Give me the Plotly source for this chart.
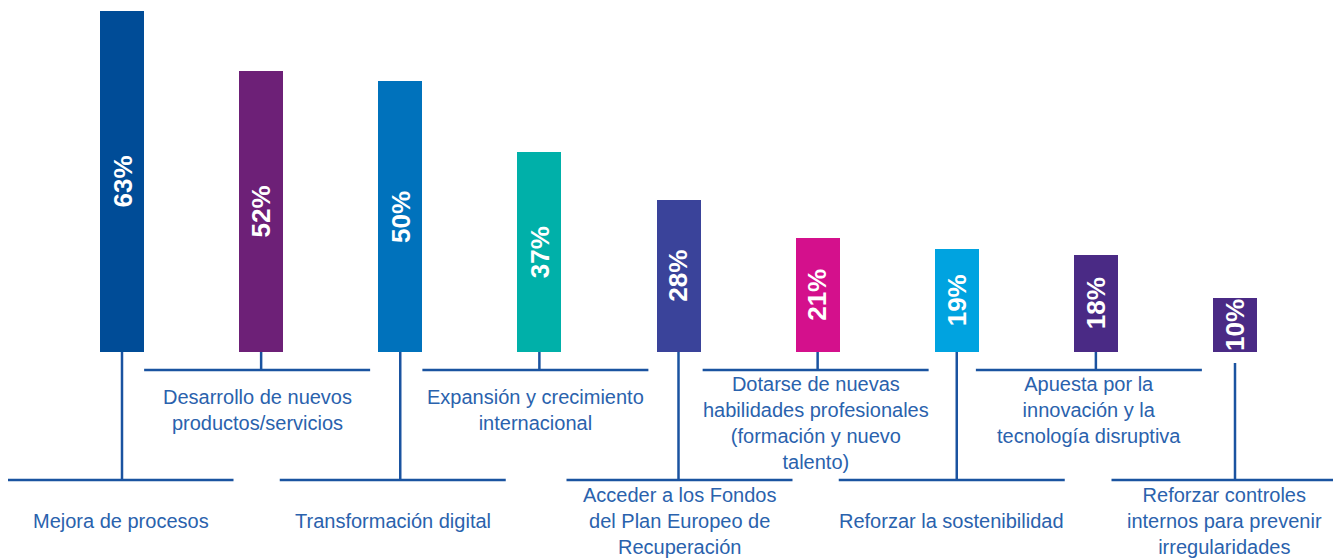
import plotly.graph_objects as go

categories = [
    "Mejora de procesos",
    "Desarrollo de nuevos<br>productos/servicios",
    "Transformación digital",
    "Expansión y crecimiento<br>internacional",
    "Acceder a los Fondos<br>del Plan Europeo de<br>Recuperación",
    "Dotarse de nuevas<br>habilidades profesionales<br>(formación y nuevo<br>talento)",
    "Reforzar la sostenibilidad",
    "Apuesta por la<br>innovación y la<br>tecnología disruptiva",
    "Reforzar controles<br>internos para prevenir<br>irregularidades",
]
values = [63, 52, 50, 37, 28, 21, 19, 18, 10]
value_labels = ["63%", "52%", "50%", "37%", "28%", "21%", "19%", "18%", "10%"]

bar_colors = ["#004C97", "#6D2077", "#0072BC", "#00B0A9", "#3A439A",
              "#D4108C", "#00A3E0", "#4A2A85", "#4A2A85"]
LINE_COLOR = "#1A53A0"
TEXT_COLOR = "#2A62AD"

# layout: horizontal offset (px) of each label bracket relative to its bar
bracket_shift_px = [-1.5, -4, -7.5, -4, 1, -2, -5, -7, -10.5]

# page has an 8px body margin: the figure starts at (8, 8) in the window
OFF = 8
W, H = 1341 - OFF, 558 - OFF
PX_PER_UNIT_X = 139.125
FIRST_X_PX = 122.0 - OFF
PX_PER_PCT = 341.0 / 63.0
BASE_PX = 352.0 - OFF

xmin = -FIRST_X_PX / PX_PER_UNIT_X
xmax = xmin + W / PX_PER_UNIT_X
ymax = BASE_PX / PX_PER_PCT
ymin = ymax - H / PX_PER_PCT

def py(page_px):
    return ymax - (page_px - OFF) / PX_PER_PCT

def dx(px):
    return px / PX_PER_UNIT_X

xs = list(range(len(values)))

fig = go.Figure()
fig.add_trace(go.Bar(
    x=xs, y=values, width=dx(44), marker=dict(color=bar_colors, line=dict(width=0)),
    hoverinfo="skip", showlegend=False,
))

shapes = []
annotations = []
SHORT_Y = 370
LONG_Y = 480
for i, (cat, v) in enumerate(zip(categories, values)):
    long_leg = (i % 2 == 0)
    yline = LONG_Y if long_leg else SHORT_Y
    start = 363 if i == len(values) - 1 else 352
    shapes.append(dict(type="line", x0=i, x1=i, y0=py(start), y1=py(yline),
                       line=dict(color=LINE_COLOR, width=2.5), layer="below"))
    cx = i + dx(bracket_shift_px[i])
    shapes.append(dict(type="line", x0=cx - dx(113), x1=cx + dx(113),
                       y0=py(yline), y1=py(yline),
                       line=dict(color=LINE_COLOR, width=2.5)))
    nlines = cat.count("<br>") + 1
    if long_leg:
        ay, anchor = py(521), "middle"
    else:
        if nlines * 25 / 2 > 409.5 - 372:
            ay, anchor = py(371), "top"
        else:
            ay, anchor = py(409.5), "middle"
    annotations.append(dict(x=cx, y=ay, text=cat, showarrow=False, xanchor="center",
                            yanchor=anchor, align="center",
                            font=dict(family="Liberation Sans, Arial, sans-serif",
                                      size=20, color=TEXT_COLOR)))
    annotations.append(dict(x=i, y=v / 2, text=value_labels[i], showarrow=False,
                            textangle=-90, xanchor="center", yanchor="middle",
                            font=dict(family="Liberation Sans, Arial, sans-serif",
                                      size=26, color="white", weight="bold")))

fig.update_layout(
    width=W, height=H, margin=dict(l=0, r=0, t=0, b=0),
    paper_bgcolor="white", plot_bgcolor="white",
    xaxis=dict(range=[xmin, xmax], visible=False, fixedrange=True),
    yaxis=dict(range=[ymin, ymax], visible=False, fixedrange=True),
    shapes=shapes, annotations=annotations, bargap=0,
)
fig.write_html("out.html")
